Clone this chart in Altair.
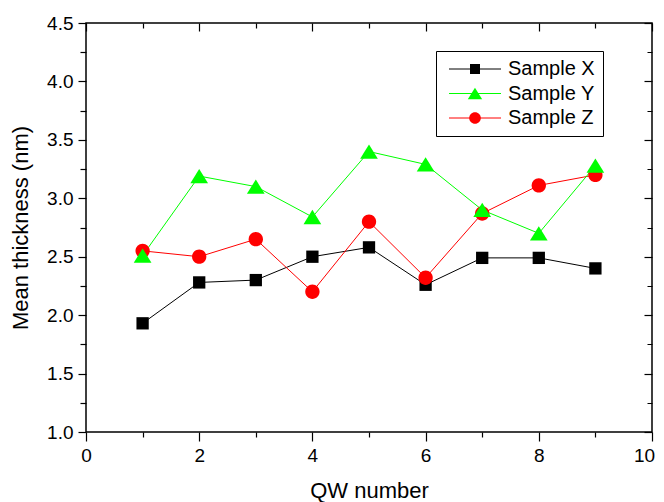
import altair as alt
import pandas as pd

# ---- data ----
qw = [1, 2, 3, 4, 5, 6, 7, 8, 9]
sample_x = [1.93, 2.28, 2.30, 2.50, 2.58, 2.26, 2.49, 2.49, 2.40]
sample_y = [2.51, 3.19, 3.10, 2.84, 3.40, 3.29, 2.90, 2.70, 3.28]
sample_z = [2.55, 2.50, 2.65, 2.20, 2.80, 2.32, 2.87, 3.11, 3.20]
series = ["Sample X", "Sample Y", "Sample Z"]
x_ticks = [0, 1, 2, 3, 4, 5, 6, 7, 8, 9, 10]
y_ticks = [1.0, 1.25, 1.5, 1.75, 2.0, 2.25, 2.5, 2.75, 3.0, 3.25, 3.5, 3.75, 4.0, 4.25, 4.5]

# ---- styles ----
colors = ["#000000", "#00ff00", "#ff0000"]
marker_paths = [
    "M-0.615,-0.615H0.615V0.615H-0.615Z",
    "M0,-0.715L0.885,0.715L-0.885,0.715Z",
    "M-0.715,0A0.715,0.715 0 1 1 0.715,0A0.715,0.715 0 1 1 -0.715,0Z",
]
FONT = "Liberation Sans"

rows = []
for name, vals in [("Sample X", sample_x), ("Sample Z", sample_z), ("Sample Y", sample_y)]:
    for q, v in zip(qw, vals):
        rows.append({"qw": q, "value": v, "sample": name, "series": name})
df = pd.DataFrame(rows)

legend_common = dict(
    title=None, orient="none", legendX=350, legendY=28,
    padding=8, rowPadding=4.5, symbolOffset=21, labelOffset=23,
    labelFont=FONT, labelFontSize=20, labelColor="black",
)
legend_lines = alt.Legend(
    symbolType="M-5.2,0H5.2", symbolSize=100, symbolStrokeWidth=1, symbolOpacity=1,
    strokeColor="black", **legend_common)
legend_marks = alt.Legend(
    symbolSize=264, symbolStrokeWidth=0, symbolOpacity=1, labelOpacity=0,
    **legend_common)

xscale = alt.Scale(domain=[0, 10], nice=False, zero=False)
yscale = alt.Scale(domain=[1.0, 4.5], nice=False, zero=False)

common_axis = dict(
    domain=False, grid=False, tickColor="black", tickWidth=1.2,
    labelFont=FONT, labelColor="black", labelFlush=False, labelOverlap=False,
    titleFont=FONT, titleFontSize=22, titleFontWeight="normal", titleColor="black",
)

x_bottom = alt.X("qw:Q", scale=xscale, axis=alt.Axis(
    values=x_ticks, title="QW number", tickSize=9, labelFontSize=19, labelPadding=5,
    titlePadding=15,
    labelExpr="datum.value % 2 == 0 ? datum.label : ''",
    labelOffset={"condition": {"test": "datum.value == 10", "value": -8}, "value": 0},
    tickDash={"condition": {"test": "datum.value % 2 != 0", "value": [5, 20]}, "value": [100, 0]},
    **common_axis))
y_left = alt.Y("value:Q", scale=yscale, axis=alt.Axis(
    values=y_ticks, title="Mean thickness (nm)", tickSize=8, labelFontSize=19, labelPadding=5,
    titlePadding=14,
    labelExpr="(datum.value * 4) % 2 == 0 ? format(datum.value, '.1f') : ''",
    tickDash={"condition": {"test": "(datum.value * 4) % 2 != 0", "value": [6, 20]}, "value": [100, 0]},
    **common_axis))

x_top = alt.X("qw:Q", scale=xscale, axis=alt.Axis(
    orient="top", values=x_ticks, title=None, labels=False, tickSize=8, offset=-8,
    tickDash={"condition": {"test": "datum.value % 2 != 0", "value": [0, 3, 5, 20]}, "value": [100, 0]},
    **common_axis))
y_right = alt.Y("value:Q", scale=yscale, axis=alt.Axis(
    orient="right", values=y_ticks, title=None, labels=False, tickSize=8, offset=-8,
    tickDash={"condition": {"test": "(datum.value * 4) % 2 != 0", "value": [0, 3, 5, 20]}, "value": [100, 0]},
    **common_axis))

base = alt.Chart(df)
lines = base.mark_line(strokeWidth=1).encode(
    x=x_bottom, y=y_left,
    stroke=alt.Stroke("sample:N", scale=alt.Scale(range=colors), legend=legend_lines),
)
points = base.mark_point(filled=True, opacity=1, size=400, strokeWidth=0).encode(
    x=x_top, y=y_right,
    fill=alt.Fill("series:N", scale=alt.Scale(range=colors), legend=legend_marks),
    shape=alt.Shape("series:N", scale=alt.Scale(range=marker_paths), legend=legend_marks),
)

chart = (
    alt.layer(lines, points)
    .resolve_axis(x="independent", y="independent")
    .properties(
        width=566, height=409, autosize="none",
        padding={"left": 78, "top": 15, "right": 4, "bottom": 80},
        background="white",
    )
    .configure_view(stroke="black", strokeWidth=1.5)
)

chart.save("out.html", embed_options={"renderer": "svg", "actions": False})
